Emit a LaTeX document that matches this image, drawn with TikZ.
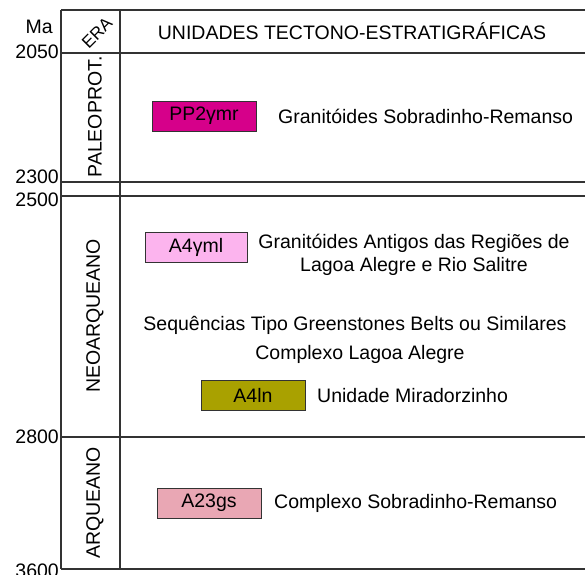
\documentclass[tikz,border=0pt]{standalone}
\usepackage{fontspec}
\setmainfont{Liberation Sans}
\usepackage{tikz}

\definecolor{paleomag}{HTML}{D6008A}
\definecolor{rosaclaro}{HTML}{FCB4EE}
\definecolor{oliva}{HTML}{A9A100}
\definecolor{rosaseco}{HTML}{E9A7B4}
\definecolor{linha}{HTML}{333333}

\begin{document}
\begin{tikzpicture}[x=1pt,y=-1pt,
    font=\fontsize{19.5}{22.5}\selectfont,
    grade/.style={draw=linha,line width=1.3pt},
    idade/.style={anchor=east,inner sep=0pt},
    unidade/.style={draw=linha,line width=0.9pt,minimum width=104pt,minimum height=30pt,inner sep=0pt},
    texto/.style={anchor=west,inner sep=0pt},
    era/.style={rotate=90,inner sep=0pt}]

    \useasboundingbox (0,0) rectangle (585,574);

    % grade da tabela
    \draw [grade] (61,10) -- (585,10);
    \draw [grade] (61,53) -- (585,53);
    \draw [grade] (61,182) -- (585,182);
    \draw [grade] (61,196) -- (585,196);
    \draw [grade] (61,437) -- (585,437);
    \draw [grade] (61,569) -- (585,569);
    \draw [grade] (61,10) -- (61,569);
    \draw [grade] (120,10) -- (120,569);

    % idades
    \node [idade] (ma) at (53,27) {Ma};
    \node [idade] (i2050) at (59,52) {2050};
    \node [idade] (i2300) at (59,177) {2300};
    \node [idade] (i2500) at (59,200) {2500};
    \node [idade] (i2800) at (59,437) {2800};
    \node [idade] (i3600) at (59,571) {3600};

    % cabecalho
    \node [rotate=45,inner sep=0pt,font=\fontsize{17}{20}\selectfont] (era) at (97,33) {ERA};
    \node (titulo) at (352,31) {UNIDADES TECTONO-ESTRATIGRÁFICAS};

    % eras
    \node [era] (paleo) at (95,117) {PALEOPROT.};
    \node [era] (neo) at (95,316) {NEOARQUEANO};
    \node [era] (arq) at (95,503) {ARQUEANO};

    % unidades
    \node [unidade,fill=paleomag] (pp2) at (204,116) {PP2γmr};
    \node [texto] (pp2t) at (278,116) {Granitóides Sobradinho-Remanso};

    \node [unidade,fill=rosaclaro,minimum width=102pt] (a4g) at (196,247) {A4γml};
    \node [align=center,inner sep=0pt] (a4gt) at (414,255) {Granitóides Antigos das Regiões de\\Lagoa Alegre e Rio Salitre};

    \node (seq) at (355,325) {Sequências Tipo Greenstones Belts ou Similares};
    \node (cla) at (360,354) {Complexo Lagoa Alegre};

    \node [unidade,fill=oliva] (a4l) at (253,395) {A4ln};
    \node [texto] (a4lt) at (317,396) {Unidade Miradorzinho};

    \node [unidade,fill=rosaseco] (a23) at (209,503) {A23gs};
    \node [texto] (a23t) at (274,503) {Complexo Sobradinho-Remanso};

\end{tikzpicture}
\end{document}
